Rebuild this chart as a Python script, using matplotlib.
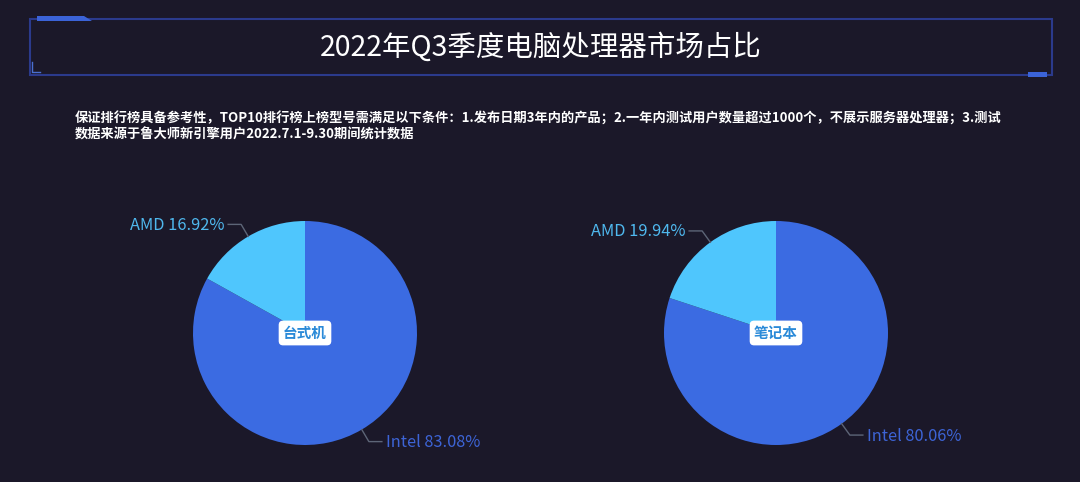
import numpy as np
import matplotlib.pyplot as plt
from matplotlib.patches import Rectangle, Polygon

plt.rcParams['font.family'] = ['Noto Sans CJK SC', 'DejaVu Sans']

title = '2022年Q3季度电脑处理器市场占比'
note = ('保证排行榜具备参考性，TOP10排行榜上榜型号需满足以下条件：1.发布日期3年内的产品；2.一年内测试用户数量超过1000个，不展示服务器处理器；3.测试\n'
        '数据来源于鲁大师新引擎用户2022.7.1-9.30期间统计数据')
brands = ['Intel', 'AMD']
desktop = [83.08, 16.92]
laptop = [80.06, 19.94]
groups = ['台式机', '笔记本']

bg = '#1b1829'
c_intel = '#3b6be2'
c_amd = '#4fc6fd'
colors = [c_intel, c_amd]

W, H = 1080, 482
fig = plt.figure(figsize=(W / 100, H / 100), dpi=100, facecolor=bg)
ax = fig.add_axes([0, 0, 1, 1])
ax.set_facecolor(bg)

# title frame
edge = '#2b3a8c'
ax.add_patch(Rectangle((30, H - 75), 1022, 56, fill=False, edgecolor=edge, lw=1.5))
ax.add_patch(Polygon([(37, H - 16), (84, H - 16), (92, H - 21), (37, H - 21)],
                     closed=True, facecolor='#3b63d8', edgecolor='none'))
ax.add_patch(Rectangle((1028, H - 77), 19, 5, facecolor='#3b63d8', edgecolor='none'))
ax.plot([32, 32, 40], [H - 62, H - 72, H - 72], color='#4a6fd0', lw=1)
ax.text(541, H - 48, title, color='white', fontsize=20.5, ha='center', va='center')

ax.text(75, H - 112, note, color='white', fontsize=9.5, ha='left', va='top',
        linespacing=1.15, fontweight='semibold')

centers = [(305, H - 333), (776, H - 333)]
radius = 112
for vals, name, cen in zip([desktop, laptop], groups, centers):
    wedges, _ = ax.pie(vals, colors=colors, startangle=90, counterclock=False,
                       center=cen, radius=radius,
                       wedgeprops=dict(linewidth=0))
    for w, b, v, col in zip(wedges, brands, vals, colors):
        ang = np.deg2rad((w.theta1 + w.theta2) / 2)
        x0 = cen[0] + radius * np.cos(ang)
        y0 = cen[1] + radius * np.sin(ang)
        x1 = cen[0] + (radius + 14) * np.cos(ang)
        y1 = cen[1] + (radius + 14) * np.sin(ang)
        side = 1 if np.cos(ang) > 0 else -1
        x2 = x1 + side * 13
        ax.plot([x0, x1, x2], [y0, y1, y1], color='#5d6577', lw=1)
        lab_col = '#3d64d6' if b == 'Intel' else '#4fb8ee'
        ax.text(x2 + side * 4, y1 - 1, f'{b} {v:.2f}%', color=lab_col, fontsize=11.8,
                ha='left' if side > 0 else 'right', va='center')
    ax.text(cen[0], cen[1], name, color='#2a8ad8', fontsize=10.5, fontweight='bold',
            ha='center', va='center',
            bbox=dict(boxstyle='round,pad=0.3,rounding_size=0.3', facecolor='white',
                      edgecolor='none'))

ax.set_xlim(0, W)
ax.set_ylim(0, H)
ax.set_aspect('auto')
ax.axis('off')

fig.savefig('out.png', dpi=100, facecolor=bg)
